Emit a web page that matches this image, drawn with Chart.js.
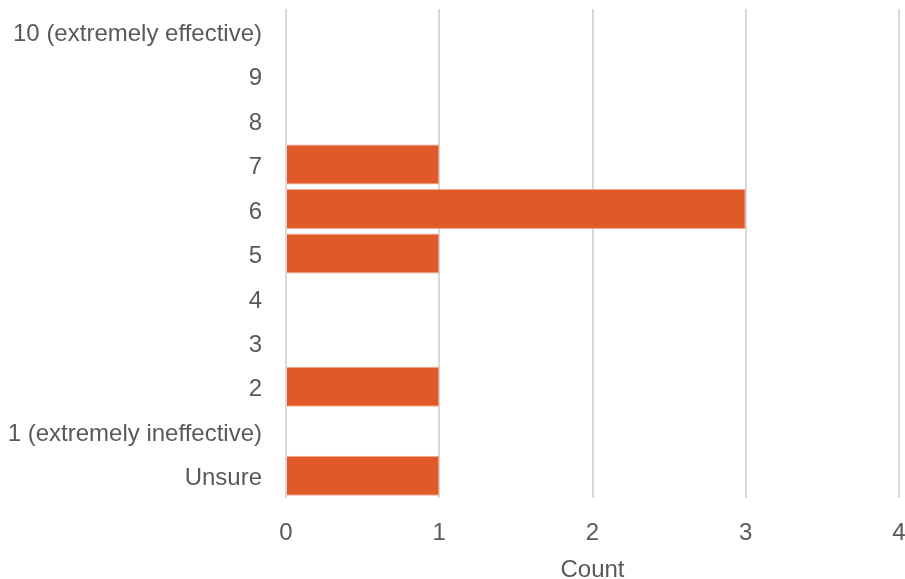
<!DOCTYPE html>
<html>
<head>
<meta charset="utf-8">
<script src="https://cdn.jsdelivr.net/npm/chart.js@4"></script>
<style>
  html, body { margin: 0; padding: 0; background: #fff; }
  #wrap { width: 905px; height: 579px; }
</style>
</head>
<body>
<div id="wrap"><canvas id="countChart" width="905" height="579"></canvas></div>
<script>
var categories = ['10 (extremely effective)', '9', '8', '7', '6', '5', '4', '3', '2', '1 (extremely ineffective)', 'Unsure'];
var counts = [0, 0, 0, 1, 3, 1, 0, 0, 1, 0, 1];
var xTicks = [0, 1, 2, 3, 4];

document.addEventListener("DOMContentLoaded", function() {
    var ctx = document.getElementById('countChart').getContext('2d');
    var labelFont = { family: 'Liberation Sans, Arial', size: 24 };
    new Chart(ctx, {
        type: 'bar',
        data: {
            labels: categories,
            datasets: [{
                label: 'Count',
                data: counts,
                backgroundColor: '#E05A28',
                borderColor: 'rgba(240,150,120,0.8)',
                borderWidth: 1,
                barPercentage: 0.9,
                categoryPercentage: 1
            }]
        },
        options: {
            indexAxis: 'y',
            responsive: false,
            animation: false,
            layout: { padding: { top: 9, right: 6, left: 0, bottom: 0 } },
            plugins: { legend: { display: false }, tooltip: { enabled: false } },
            scales: {
                x: {
                    min: xTicks[0],
                    max: xTicks[xTicks.length - 1],
                    afterBuildTicks: function(scale) {
                        scale.ticks = xTicks.map(function(v) { return { value: v }; });
                    },
                    afterFit: function(scale) {
                        scale.height = 81;
                        scale.paddingLeft = 0;
                        scale.paddingRight = 0;
                    },
                    grid: { color: '#d9d9d9', lineWidth: 2, drawTicks: false },
                    border: { display: false },
                    ticks: { padding: 21, color: '#595959', font: labelFont },
                    title: {
                        display: true,
                        text: 'Count',
                        color: '#595959',
                        padding: { top: 0, bottom: 0 },
                        font: { family: 'Liberation Sans, Arial', size: 24, lineHeight: 0.7 }
                    }
                },
                y: {
                    afterFit: function(scale) {
                        scale.width = 286;
                        scale.paddingTop = 0;
                        scale.paddingBottom = 0;
                    },
                    grid: { display: false, drawTicks: false },
                    border: { display: false },
                    ticks: { padding: 24, labelOffset: 3, color: '#595959', font: labelFont }
                }
            }
        }
    });
});
</script>
</body>
</html>
